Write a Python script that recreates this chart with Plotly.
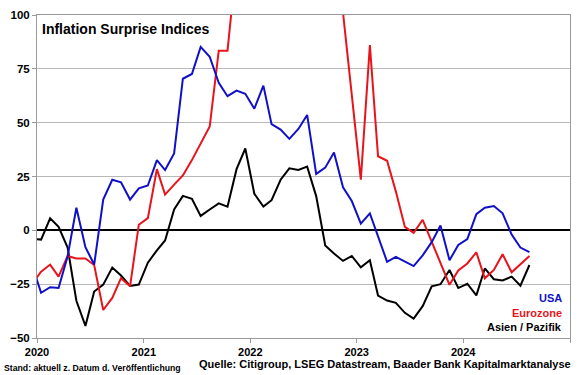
import pandas as pd
import plotly.graph_objects as go

# Monthly observations (mid-month), Dec 2019 .. Aug 2024
months = [d.strftime("%Y-%m-15") for d in pd.date_range("2019-12-01", "2024-08-01", freq="MS")]

usa = [-16, -29, -26.4, -26.8, -12, 10.5, -7.8, -15.9, 14.3, 23.5, 22.3, 14.3, 19.5,
       20.8, 32.6, 28, 35.7, 70.4, 72.6, 85.2, 80.6, 68.5, 62.3, 64.9, 63.4,
       56.5, 67.2, 49.3, 46.8, 42.5, 47.1, 53.6, 26.2, 29.1, 36.1, 20, 13.6,
       3.1, 7.9, -2.4, -14.6, -12.3, -14.3, -16.6, -11.6, -5.5, 2.3, -13.9, -6.8,
       -4.1, 7.5, 10.5, 11.3, 7.9, -2, -8, -10.1]

eurozone = [-25, -19.2, -15.9, -21.5, -11.9, -13.1, -13.1, -16.1, -37, -31.4, -22.2, -26, 2.6,
            5.7, 28.4, 16.6, 21.2, 25.5, 32.6, 40.2, 48.2, 83.4, 83.4, 125, 140,
            155, 170, 185, 175, 190, 200, 185, 165, 145, 125, 101, 62,
            23.5, 86, 34.4, 32.3, 18.1, 1.6, -1.2, 4.9, -5, -14.6, -25.3, -18.6,
            -15.4, -10.2, -22.3, -18.4, -11.1, -19.5, -15.9, -11.9]

asia = [-4, -4.3, 5.6, 1.6, -8, -32.7, -44.4, -28.4, -25.2, -17.3, -21, -25.8, -25.2,
        -15, -9.3, -4.7, 9.7, 16, 14.6, 6.7, 9.7, 12.5, 11, 28.4, 38,
        17, 11, 14, 23.5, 28.8, 28, 29.6, 15.9, -7, -10.8, -14.2, -11.9,
        -17.2, -13.9, -30.3, -32.6, -33.7, -38.3, -41, -35.2, -26, -25, -18.4, -26.8,
        -24.8, -30.2, -17.7, -22.7, -23.3, -21.5, -25.7, -16.1]

year_ticks = ["2020-01-01", "2021-01-01", "2022-01-01", "2023-01-01", "2024-01-01", "2025-01-01"]
year_labels = ["2020", "2021", "2022", "2023", "2024", ""]
y_ticks = [-50, -25, 0, 25, 50, 75, 100]

FONT = "Liberation Sans, Arial, sans-serif"
BLUE = "#1010c8"
RED = "#e8141c"
BLACK = "#000000"

fig = go.Figure()
for name, vals, col in [("Asien / Pazifik", asia, BLACK), ("Eurozone", eurozone, RED), ("USA", usa, BLUE)]:
    fig.add_trace(go.Scatter(x=months, y=vals, mode="lines", name=name,
                             line=dict(color=col, width=2), cliponaxis=True))

fig.update_layout(
    width=580, height=375,
    margin=dict(l=37, r=9, t=10, b=37),
    paper_bgcolor="white", plot_bgcolor="white",
    showlegend=False,
    font=dict(family=FONT, color="black"),
)
fig.update_xaxes(
    type="date", range=["2020-01-01", "2025-01-01"],
    tickvals=year_ticks, ticktext=year_labels,
    showgrid=False, zeroline=False,
    showline=True, linecolor="#9a9a9a", linewidth=1, mirror=True,
    ticks="outside", ticklen=4, tickcolor="#9a9a9a",
    tickfont=dict(family=FONT, size=11, color="black", weight="bold"),
)
fig.update_yaxes(
    range=[-50, 100], tickvals=y_ticks,
    showgrid=True, gridcolor="#b8b8b8", gridwidth=1,
    zeroline=True, zerolinecolor="black", zerolinewidth=2,
    showline=True, linecolor="#9a9a9a", linewidth=1, mirror=True,
    ticks="outside", ticklen=4, tickcolor="#9a9a9a",
    tickfont=dict(family=FONT, size=11.5, color="black", weight="bold"),
)

def ann(text, x, y, size, color="black", xanchor="left"):
    fig.add_annotation(text=text, x=x, y=y, xref="paper", yref="paper",
                       xanchor=xanchor, yanchor="middle", showarrow=False,
                       font=dict(family=FONT, size=size, color=color, weight="bold"))

ann("Inflation Surprise Indices", 0.0056, 0.957, 14)
ann("USA", 0.988, 0.124, 11, BLUE, "right")
ann("Eurozone", 0.988, 0.077, 11, RED, "right")
ann("Asien / Pazifik", 0.988, 0.0335, 11, BLACK, "right")
ann("Stand: aktuell z. Datum d. Veröffentlichung", -0.0655, -0.0924, 8.7)
ann("Quelle: Citigroup, LSEG Datastream, Baader Bank Kapitalmarktanalyse", 1.0056, -0.081, 11, "black", "right")

fig.write_html("out.html", config={"displayModeBar": False},
               post_script="document.body.style.margin='0';document.body.style.overflow='hidden';")
